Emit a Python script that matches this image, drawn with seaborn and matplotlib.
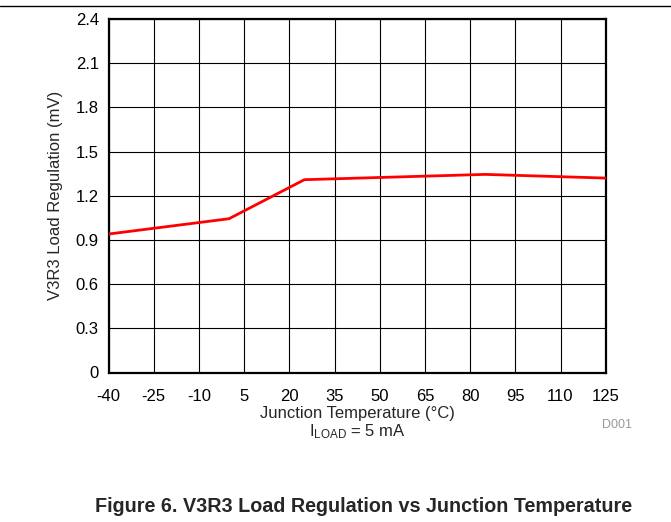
import matplotlib
matplotlib.use("Agg")
import matplotlib.pyplot as plt
import seaborn as sns
import pandas as pd
import numpy as np

temperature = [-40, 0, 25, 85, 125]
load_regulation = [0.94, 1.044, 1.309, 1.345, 1.32]
x_ticks = [-40, -25, -10, 5, 20, 35, 50, 65, 80, 95, 110, 125]
y_ticks = [0, 0.3, 0.6, 0.9, 1.2, 1.5, 1.8, 2.1, 2.4]
y_tick_labels = ["0", "0.3", "0.6", "0.9", "1.2", "1.5", "1.8", "2.1", "2.4"]

sns.set_style("white")
plt.rcParams['font.family'] = ['Liberation Sans', 'DejaVu Sans']
plt.rcParams['mathtext.fontset'] = 'custom'
plt.rcParams['mathtext.rm'] = 'Liberation Sans'
plt.rcParams['mathtext.it'] = 'Liberation Sans'

df = pd.DataFrame({"T": temperature, "V": load_regulation})

fig = plt.figure(figsize=(6.71, 5.22), dpi=100)
ax = fig.add_axes([108.5/671, 1-372.5/522, (605.7-108.5)/671, (372.5-19)/522])

sns.lineplot(data=df, x="T", y="V", ax=ax, color="#ff0000", linewidth=2.0, zorder=5)

ax.set_xlim(-40, 125)
ax.set_ylim(0, 2.4)
ax.set_xticks(x_ticks)
ax.set_xticklabels([str(t) for t in x_ticks])
ax.set_yticks(y_ticks)
ax.set_yticklabels(y_tick_labels)
ax.grid(True, color="black", linewidth=0.8)
ax.tick_params(axis="x", length=0, labelsize=12, pad=12, colors="black")
ax.tick_params(axis="y", length=0, labelsize=12, pad=7, colors="black")
for s in ax.spines.values():
    s.set_linewidth(1.6)
    s.set_color("black")

ax.set_xlabel("Junction Temperature (°C)\nI$_{\\mathrm{LOAD}}$ = 5 mA", fontsize=12, labelpad=1, linespacing=1.15)
ax.set_ylabel("V3R3 Load Regulation (mV)", fontsize=12, labelpad=9)

fig.text(617/671, 1-425/522, "D001", fontsize=9, color="#999999", ha="center", va="center")
fig.add_artist(plt.Line2D([0, 1], [1-5.5/522, 1-5.5/522], color="black", linewidth=1.0, transform=fig.transFigure))
fig.text(364/671, 1-507/522, "Figure 6. V3R3 Load Regulation vs Junction Temperature",
         fontsize=14.2, fontweight="bold", ha="center", va="center")

fig.savefig("out.png", dpi=100)
